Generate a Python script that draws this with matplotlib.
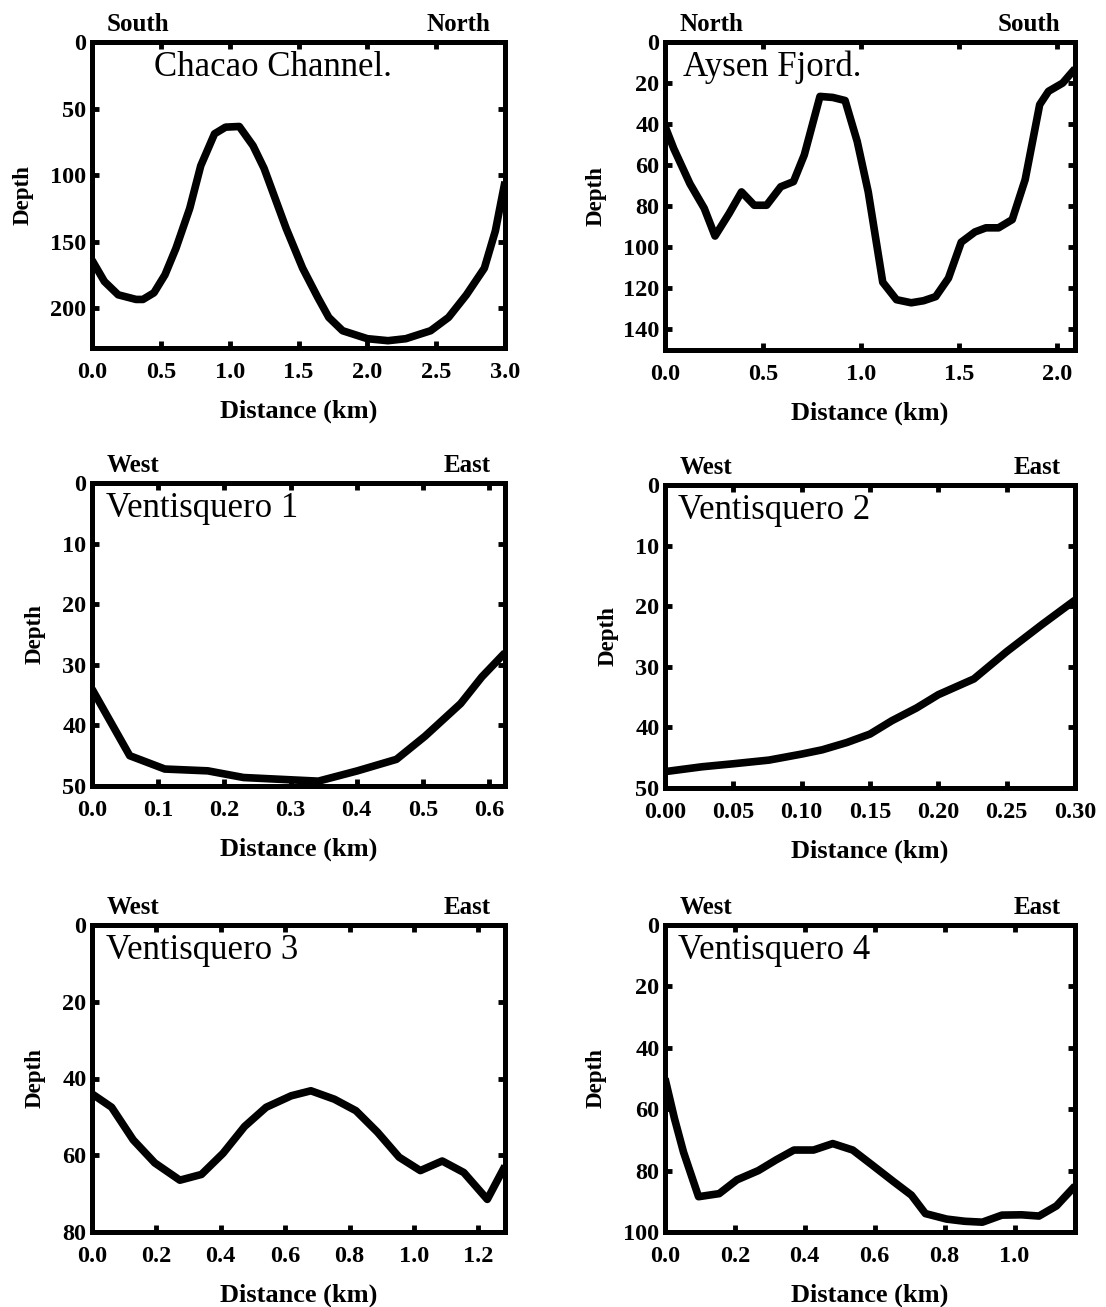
import matplotlib
matplotlib.use("Agg")
import matplotlib.pyplot as plt
from matplotlib.ticker import FormatStrFormatter

# ---- Bathymetric cross-sections: distance (km) vs depth (m) ----
chacao_x = [0.00, 0.09, 0.19, 0.32, 0.37, 0.45, 0.53, 0.61, 0.71, 0.79, 0.89, 0.97,
            1.07, 1.17, 1.25, 1.41, 1.53, 1.64, 1.72, 1.82, 2.00, 2.15, 2.28, 2.46,
            2.59, 2.72, 2.85, 2.93, 3.00]
chacao_d = [164, 180, 190, 193.5, 193.5, 188.5, 175, 155, 125, 93, 69, 64,
            63.5, 78, 95, 140, 170, 192, 207, 217, 223, 224.5, 223, 217,
            207, 190, 170, 142, 105]

aysen_x = [0.000, 0.045, 0.127, 0.200, 0.255, 0.327, 0.390, 0.455, 0.518, 0.590,
           0.655, 0.710, 0.790, 0.855, 0.918, 0.980, 1.036, 1.110, 1.180, 1.255,
           1.318, 1.380, 1.445, 1.510, 1.580, 1.636, 1.700, 1.770, 1.836, 1.910,
           1.955, 2.027, 2.090]
aysen_d = [41, 52, 69, 81, 94.5, 83.5, 73, 79.5, 79.5, 70.5,
           68, 55, 26.5, 27, 28.5, 48.5, 73, 117, 125.5, 127,
           126, 124, 115, 97.5, 92.5, 90.5, 90.5, 86.5, 67, 30.5,
           24, 20, 13]

vent1_x = [0.000, 0.057, 0.110, 0.175, 0.229, 0.304, 0.342, 0.401, 0.460, 0.503,
           0.557, 0.589, 0.624]
vent1_d = [34, 45, 47.2, 47.5, 48.6, 49.0, 49.2, 47.5, 45.6, 41.8, 36.4, 32, 28]

vent2_x = [0.000, 0.027, 0.050, 0.076, 0.100, 0.115, 0.133, 0.150, 0.166, 0.184,
           0.200, 0.226, 0.250, 0.276, 0.300]
vent2_d = [47.3, 46.5, 46.0, 45.4, 44.4, 43.7, 42.5, 41.1, 38.9, 36.8,
           34.6, 32.0, 27.5, 23.0, 19.0]

vent3_x = [0.000, 0.061, 0.128, 0.195, 0.273, 0.340, 0.407, 0.474, 0.541, 0.619,
           0.680, 0.753, 0.820, 0.887, 0.954, 1.020, 1.088, 1.155, 1.228, 1.283]
vent3_d = [44, 47.5, 56, 62, 66.5, 65, 59.5, 52.5, 47.5, 44.5,
           43.2, 45.4, 48.4, 54, 60.5, 64, 61.5, 64.5, 71.5, 62.8]

vent4_x = [0.000, 0.027, 0.053, 0.096, 0.155, 0.206, 0.267, 0.318, 0.369, 0.425,
           0.480, 0.537, 0.593, 0.654, 0.705, 0.745, 0.806, 0.857, 0.908, 0.964,
           1.020, 1.070, 1.120, 1.173]
vent4_d = [50, 63, 74, 88.5, 87.5, 83, 80, 76.5, 73.3, 73.3,
           71.2, 73.3, 78.2, 83.6, 88, 94, 95.8, 96.5, 96.8, 94.5,
           94.4, 94.8, 91.5, 85]

names = ["Chacao Channel.", "Aysen Fjord.", "Ventisquero 1",
         "Ventisquero 2", "Ventisquero 3", "Ventisquero 4"]
left_dir = ["South", "North", "West", "West", "West", "West"]
right_dir = ["North", "South", "East", "East", "East", "East"]

xs = [chacao_x, aysen_x, vent1_x, vent2_x, vent3_x, vent4_x]
ds = [chacao_d, aysen_d, vent1_d, vent2_d, vent3_d, vent4_d]
xlims = [(0, 3.0), (0, 2.09), (0, 0.624), (0, 0.30), (0, 1.283), (0, 1.173)]
ylims = [(230, 0), (150, 0), (50, 0), (50, 0), (80, 0), (100, 0)]
xticks = [[0, 0.5, 1.0, 1.5, 2.0, 2.5, 3.0],
          [0, 0.5, 1.0, 1.5, 2.0],
          [0, 0.1, 0.2, 0.3, 0.4, 0.5, 0.6],
          [0, 0.05, 0.10, 0.15, 0.20, 0.25, 0.30],
          [0, 0.2, 0.4, 0.6, 0.8, 1.0, 1.2],
          [0, 0.2, 0.4, 0.6, 0.8, 1.0]]
yticks = [[0, 50, 100, 150, 200],
          [0, 20, 40, 60, 80, 100, 120, 140],
          [0, 10, 20, 30, 40, 50],
          [0, 10, 20, 30, 40, 50],
          [0, 20, 40, 60, 80],
          [0, 20, 40, 60, 80, 100]]
xfmt = ["%.1f", "%.1f", "%.1f", "%.2f", "%.1f", "%.1f"]
title_x = [0.15, 0.045, 0.035, 0.032, 0.035, 0.032]

W, H = 1106, 1307
fig = plt.figure(figsize=(W / 100, H / 100), dpi=100)
serif = "Liberation Serif"

# axes boxes in pixels: (left, top, right, bottom)
boxes = [(92, 42, 505, 348), (665, 42, 1075, 350),
         (92, 483, 505, 786), (665, 485, 1075, 788),
         (92, 925, 505, 1232), (665, 925, 1075, 1232)]

for i in range(6):
    l, t, r, b = boxes[i]
    ax = fig.add_axes([l / W, 1 - b / H, (r - l) / W, (b - t) / H])
    ax.plot(xs[i], ds[i], color="black", lw=5.5, solid_joinstyle="round",
            solid_capstyle="butt", clip_on=True)
    ax.set_xlim(*xlims[i])
    ax.set_ylim(*ylims[i])
    ax.set_xticks(xticks[i])
    ax.set_yticks(yticks[i])
    ax.xaxis.set_major_formatter(FormatStrFormatter(xfmt[i]))
    for s in ax.spines.values():
        s.set_linewidth(3.6)
    ax.tick_params(direction="in", length=5, width=3.5, top=True, right=True,
                   labelsize=17.5, pad=4)
    ax.tick_params(axis="x", pad=10)
    for lab in ax.get_xticklabels() + ax.get_yticklabels():
        lab.set_fontfamily(serif)
        lab.set_fontweight("bold")
    ax.set_xlabel("Distance (km)", fontsize=19, fontweight="bold",
                  family=serif, labelpad=12)
    ax.set_ylabel("Depth", fontsize=16.5, fontweight="bold", family=serif,
                  labelpad=12)
    ax.text(0.035, 1.035, left_dir[i], transform=ax.transAxes, ha="left",
            va="baseline", fontsize=18, fontweight="bold", family=serif)
    ax.text(0.965, 1.035, right_dir[i], transform=ax.transAxes, ha="right",
            va="baseline", fontsize=18, fontweight="bold", family=serif)
    ax.text(title_x[i], 0.888, names[i], transform=ax.transAxes, ha="left",
            va="baseline", fontsize=25, family=serif)

fig.savefig("out.png", dpi=100)
